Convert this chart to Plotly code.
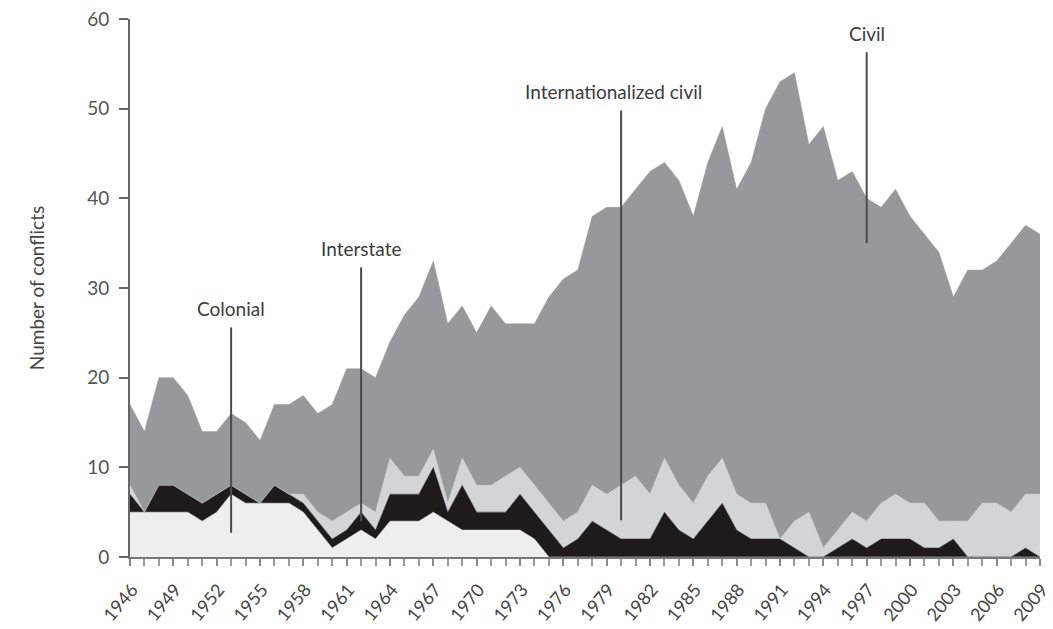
import plotly.graph_objects as go

# ---- data ----
years = list(range(1946, 2010))

colonial = [5, 5, 5, 5, 5, 4, 5, 7, 6, 6,
            6, 6, 5, 3, 1, 2, 3, 2, 4, 4,
            4, 5, 4, 3, 3, 3, 3, 3, 2, 0,
            0, 0, 0, 0, 0, 0, 0, 0, 0, 0,
            0, 0, 0, 0, 0, 0, 0, 0, 0, 0,
            0, 0, 0, 0, 0, 0, 0, 0, 0, 0,
            0, 0, 0, 0]

interstate = [2, 0, 3, 3, 2, 2, 2, 1, 1, 0,
              2, 1, 1, 1, 1, 1, 2, 1, 3, 3,
              3, 5, 1, 5, 2, 2, 2, 4, 3, 3,
              1, 2, 4, 3, 2, 2, 2, 5, 3, 2,
              4, 6, 3, 2, 2, 2, 1, 0, 0, 1,
              2, 1, 2, 2, 2, 1, 1, 2, 0, 0,
              0, 0, 1, 0]

internationalized_civil = [1, 0, 0, 0, 0, 0, 0, 0, 0, 0,
                           0, 0, 1, 1, 2, 2, 1, 2, 4, 2,
                           2, 2, 1, 3, 3, 3, 4, 3, 3, 3,
                           3, 3, 4, 4, 6, 7, 5, 6, 5, 4,
                           5, 5, 4, 4, 4, 0, 3, 5, 1, 2,
                           3, 3, 4, 5, 4, 5, 3, 2, 4, 6,
                           6, 5, 6, 7]

total_conflicts = [17, 14, 20, 20, 18, 14, 14, 16, 15, 13,
                   17, 17, 18, 16, 17, 21, 21, 20, 24, 27,
                   29, 33, 26, 28, 25, 28, 26, 26, 26, 29,
                   31, 32, 38, 39, 39, 41, 43, 44, 42, 38,
                   44, 48, 41, 44, 50, 53, 54, 46, 48, 42,
                   43, 40, 39, 41, 38, 36, 34, 29, 32, 32,
                   33, 35, 37, 36]

civil = [t - c - i - n for t, c, i, n in
         zip(total_conflicts, colonial, interstate, internationalized_civil)]

# label annotations: (text, year, line top, line bottom)
callout_text = ["Colonial", "Interstate", "Internationalized civil", "Civil"]
callout_year = [1953, 1962, 1980, 1997]
callout_top = [25.6, 32.3, 49.8, 56.3]
callout_bottom = [2.7, 4.0, 4.1, 35.0]
callout_xshift = [0, 0, -8, 0]

tick_years = years[::3]
y_ticks = [0, 10, 20, 30, 40, 50, 60]

# ---- figure ----
FONT = "Lato, 'Open Sans', sans-serif"
layers = [
    ("Colonial", colonial, "#eeeeec"),
    ("Interstate", interstate, "#1f1b1d"),
    ("Internationalized civil", internationalized_civil, "#d3d4d7"),
    ("Civil", civil, "#96989c"),
]

fig = go.Figure()
for name, vals, color in layers:
    fig.add_trace(go.Scatter(
        x=years, y=vals, name=name, stackgroup="one", mode="lines",
        line=dict(width=0.5, color=color), fillcolor=color,
        hoverinfo="x+y+name",
    ))

for txt, yr, top, bot, xs in zip(callout_text, callout_year, callout_top,
                                 callout_bottom, callout_xshift):
    fig.add_shape(type="line", x0=yr, x1=yr, y0=bot, y1=top,
                  xref="x", yref="y", line=dict(color="#4a4a4a", width=2))
    fig.add_annotation(x=yr, y=top, text=txt, showarrow=False,
                       xanchor="center", yanchor="bottom", yshift=5, xshift=xs,
                       font=dict(family=FONT, size=19, color="#3c3c3c"))

# the page body adds an 8px offset; margins compensate for it
fig.update_layout(
    width=1053, height=629,
    margin=dict(l=122, r=21, t=11, b=80),
    showlegend=False,
    plot_bgcolor="white", paper_bgcolor="white",
    font=dict(family=FONT, color="#444"),
)
fig.update_xaxes(
    range=[1946, 2009], automargin=False,
    tickvals=tick_years, ticktext=[str(y) for y in tick_years],
    tickangle=-50, tickfont=dict(size=18, color="#444"),
    ticks="outside", ticklen=7, tickwidth=2, tickcolor="#888",
    ticklabelstandoff=6, ticklabelshift=2, ticklabeloverflow="allow",
    minor=dict(tickvals=years, ticks="outside", ticklen=7, tickwidth=2,
               tickcolor="#999"),
    showline=True, linecolor="#777", linewidth=2,
    showgrid=False, zeroline=False,
)
fig.update_yaxes(
    range=[0, 60], automargin=False,
    tickmode="array", tickvals=y_ticks, ticktext=[str(v) for v in y_ticks],
    tickfont=dict(size=19, color="#555"),
    ticks="outside", ticklen=9, tickwidth=2, tickcolor="#666",
    ticklabelstandoff=6, ticklabeloverflow="allow",
    showline=True, linecolor="#666", linewidth=2,
    showgrid=False, zeroline=False,
    title=dict(text="Number of conflicts", font=dict(size=19, color="#444"),
               standoff=38),
)

fig.write_html("out.html")
